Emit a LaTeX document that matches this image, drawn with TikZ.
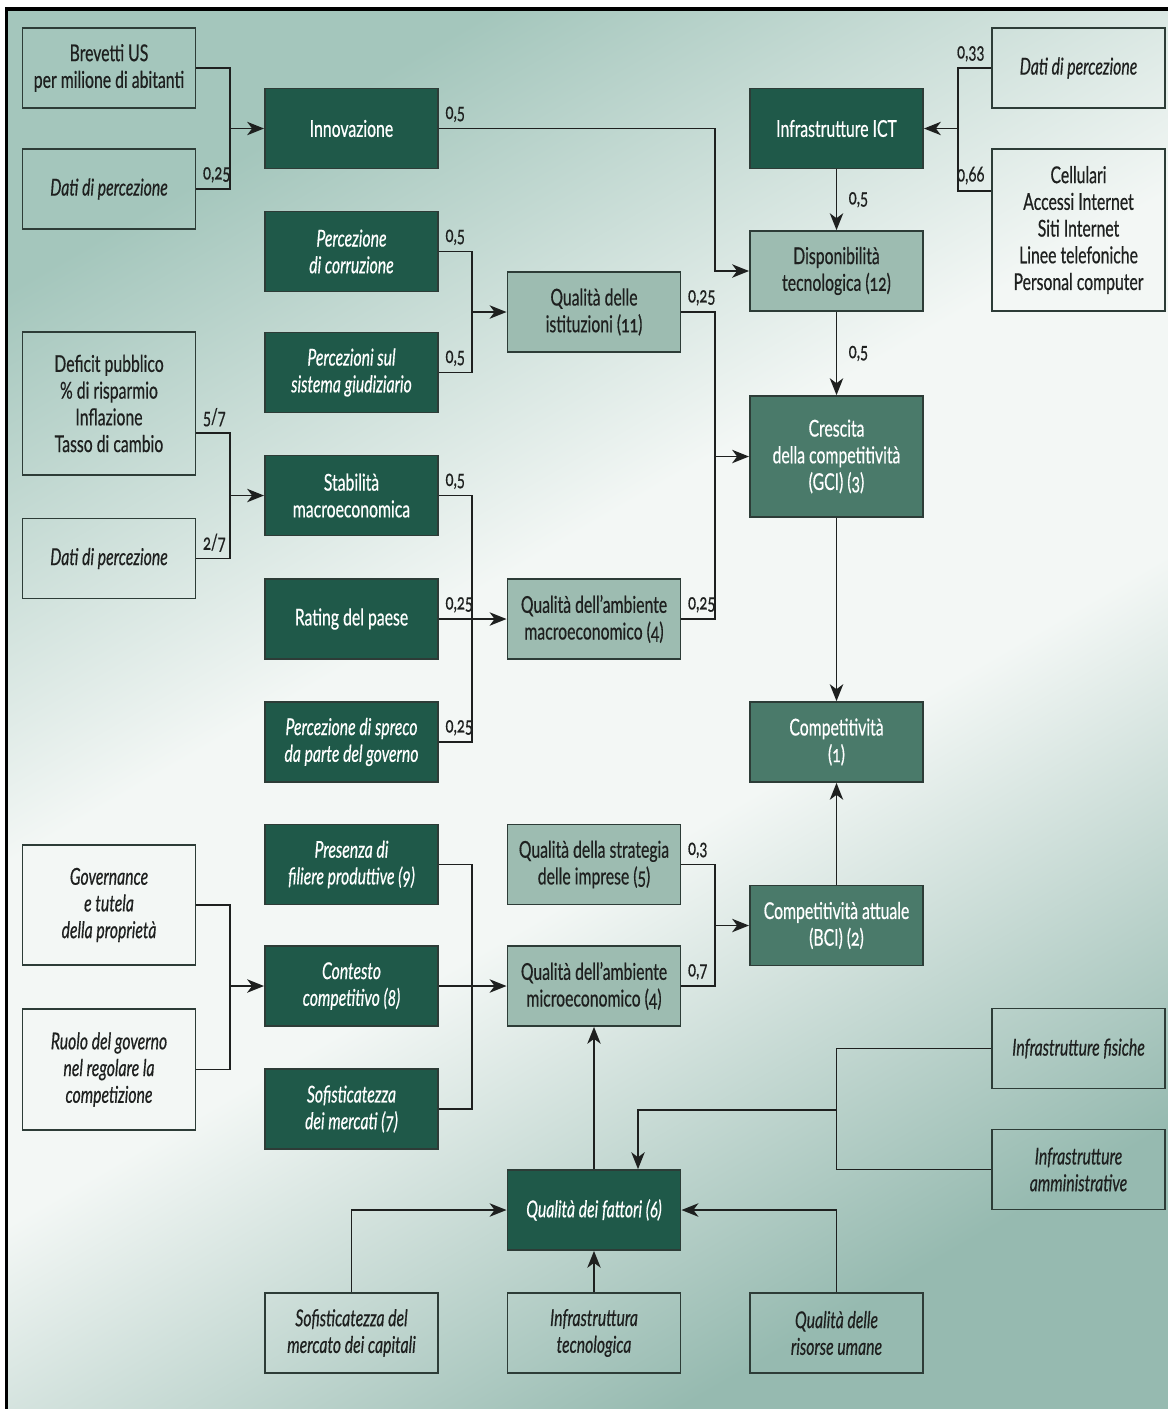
\documentclass[tikz,border=0pt]{standalone}
\usepackage{fontspec}
\setmainfont{Lato}[FakeStretch=0.68,FakeBold=0.5,Numbers=OldStyle]
\usetikzlibrary{arrows.meta,calc}
\definecolor{bgc}{RGB}{164,198,188}
\definecolor{bgend}{RGB}{150,186,176}
\definecolor{bgmid}{RGB}{243,247,245}
\definecolor{dkgreen}{RGB}{31,89,73}
\definecolor{mdgreen}{RGB}{74,122,106}
\definecolor{ltgreen}{RGB}{157,188,177}
\definecolor{frame}{RGB}{45,60,55}
\definecolor{ink}{RGB}{30,32,31}
\pgfdeclareverticalshading{bgshade}{100bp}{color(0bp)=(bgend); color(25bp)=(bgend); color(44bp)=(bgmid); color(56bp)=(bgmid); color(75bp)=(bgc); color(100bp)=(bgc)}
\begin{document}
\begin{tikzpicture}[x=0.025cm,y=-0.025cm]
\def\bw{4.33cm}
\def\bh{2cm}
\def\gap{0.86cm}
\tikzset{
base/.style={draw=frame,line width=1.2pt,minimum width=\bw,minimum height=\bh,align=center,inner sep=2pt,font=\fontsize{16.5}{19}\selectfont},
inp/.style={base,text=ink},
inpi/.style={inp,font=\fontsize{16.5}{19}\selectfont\itshape},
dark/.style={base,fill=dkgreen,text=white},
darki/.style={dark,font=\fontsize{16.5}{19}\selectfont\itshape},
mid/.style={base,fill=mdgreen,text=white},
light/.style={base,fill=ltgreen,text=ink},
wt/.style={font=\fontsize{15.5}{15.5}\selectfont,text=ink,inner sep=4pt,anchor=south west},
wire/.style={draw=ink,line width=1.35pt},
every path/.style={>={Stealth[length=12pt,width=9.5pt,inset=3.5pt]}}}
\useasboundingbox (0,0) rectangle (1168,1409);
\shade[shading=bgshade,shading angle=30] (6.5,9) rectangle (1168,1409);
\draw[line width=2.2pt] (6.5,1409) -- (6.5,9) -- (1168,9);
% first column
\node[inp] at (109,68) (BR) {Brevetti US\\per milione di abitanti};
\node[inpi] at (109,189) (DP1) {Dati di percezione};
\node[inp,minimum height=3.575cm] at (109,403.5) (DF) {Deficit pubblico\\\% di risparmio\\Inflazione\\Tasso di cambio};
\node[inpi] at (109,558.5) (DP3) {Dati di percezione};
\node[inpi,minimum height=3cm] at (109,905) (GT) {Governance\\e tutela\\della proprietà};
\node[inpi,minimum height=3.025cm] at (109,1069.5) (RG) {Ruolo del governo\\nel regolare la\\competizione};
% second column
\node[dark] at (351.5,128.5) (INN) {Innovazione};
\node[darki] at (351.5,251.5) (PC) {Percezione\\di corruzione};
\node[darki] at (351.5,372.5) (PG) {Percezioni sul\\sistema giudiziario};
\node[dark] at (351.5,495.5) (SM) {Stabilità\\macroeconomica};
\node[dark] at (351.5,619) (RP) {Rating del paese};
\node[darki] at (351.5,742) (PS) {Percezione di spreco\\da parte del governo};
\node[darki] at (351.5,864.5) (PF) {Presenza di\\filiere produttive (9)};
\node[darki] at (351.5,986) (CC) {Contesto\\competitivo (8)};
\node[darki] at (351.5,1109) (SF) {Sofisticatezza\\dei mercati (7)};
\node[inpi] at (351.5,1333) (SC) {Sofisticatezza del\\mercato dei capitali};
% third column
\node[light] at (594,312) (QI) {Qualità delle\\istituzioni (11)};
\node[light] at (594,619) (QM) {Qualità dell'ambiente\\macroeconomico (4)};
\node[light] at (594,864.5) (QS) {Qualità della strategia\\delle imprese (5)};
\node[light] at (594,986) (QE) {Qualità dell'ambiente\\microeconomico (4)};
\node[darki] at (594,1210) (QF) {Qualità dei fattori (6)};
\node[inpi] at (594,1333) (IT) {Infrastruttura\\tecnologica};
% fourth column
\node[dark] at (836.5,128.5) (ICT) {Infrastrutture ICT};
\node[light] at (836.5,271) (DT) {Disponibilità\\tecnologica (12)};
\node[mid,minimum height=3.025cm] at (836.5,456.5) (CR) {Crescita\\della competitività\\(GCI) (3)};
\node[mid] at (836.5,742) (CO) {Competitività\\(1)};
\node[mid] at (836.5,925.5) (CA) {Competitività attuale\\(BCI) (2)};
\node[inpi] at (836.5,1333) (QR) {Qualità delle\\risorse umane};
% last column
\node[inpi] at (1078.5,68) (DP2) {Dati di percezione};
\node[inp,minimum height=4.05cm] at (1078.5,230) (CEL) {Cellulari\\Accessi Internet\\Siti Internet\\Linee telefoniche\\Personal computer};
\node[inpi] at (1078.5,1048.5) (IF) {Infrastrutture fisiche};
\node[inpi] at (1078.5,1169.5) (IA) {Infrastrutture\\amministrative};
% innovazione
\coordinate (J1) at ([xshift=-\gap]INN.west);
\path[wire] (BR.east) -| (J1) |- (DP1.east) node[wt]{0,25};
\path[wire,->] (J1) -- (INN.west);
% disponibilita tecnologica
\coordinate (J3) at ([xshift=-\gap]DT.west);
\path[wire,->] (INN.east) node[wt]{0,5} -| (J3) -- (DT.west);
\coordinate (J5) at ([xshift=\gap]ICT.east);
\coordinate (C66) at (CEL.west |- 0,191);
\path[wire] (DP2.west) node[wt,anchor=south east]{0,33} -| (J5) |- (C66) node[wt,anchor=south east]{0,66};
\path[wire,->] (J5) -- (ICT.east);
\path[wire,->] (ICT.south) -- node[wt,anchor=west,xshift=4pt]{0,5} (DT.north);
% istituzioni
\coordinate (J2) at ([xshift=-\gap]QI.west);
\path[wire] (PC.east) node[wt]{0,5} -| (J2) |- (PG.east) node[wt]{0,5};
\path[wire,->] (J2) -- (QI.west);
% stabilita
\coordinate (J6) at ([xshift=-\gap]SM.west);
\coordinate (C57) at (DF.east |- 0,433);
\path[wire] (C57) node[wt]{5/7} -| (J6) |- (DP3.east) node[wt]{2/7};
\path[wire,->] (J6) -- (SM.west);
% ambiente macro
\coordinate (J7) at ([xshift=-\gap]QM.west);
\path[wire] (SM.east) node[wt]{0,5} -| (J7) |- (PS.east) node[wt]{0,25};
\path[wire,->] (RP.east) node[wt]{0,25} -- (QM.west);
% crescita
\coordinate (J4) at ([xshift=-\gap]CR.west);
\path[wire] (QI.east) node[wt]{0,25} -| (J4) |- (QM.east) node[wt]{0,25};
\path[wire,->] (J4) -- (CR.west);
\path[wire,->] (DT.south) -- node[wt,anchor=west,xshift=4pt]{0,5} (CR.north);
\path[wire,->] (CR.south) -- (CO.north);
% ambiente micro
\coordinate (J9) at ([xshift=-\gap]CC.west);
\path[wire] (GT.east) -| (J9) |- (RG.east);
\path[wire,->] (J9) -- (CC.west);
\coordinate (J10) at ([xshift=-\gap]QE.west);
\path[wire] (PF.east) -| (J10) |- (SF.east);
\path[wire,->] (CC.east) -- (QE.west);
% competitivita attuale
\coordinate (J8) at ([xshift=-\gap]CA.west);
\path[wire] (QS.east) node[wt]{0,3} -| (J8) |- (QE.east) node[wt]{0,7};
\path[wire,->] (J8) -- (CA.west);
\path[wire,->] (CA.north) -- (CO.south);
% fattori
\path[wire,->] (QF.north) -- (QE.south);
\path[wire,->] (SC.north) |- (QF.west);
\path[wire,->] (IT.north) -- (QF.south);
\path[wire,->] (QR.north) |- (QF.east);
\coordinate (J11) at (QR.north |- 0,1110);
\coordinate (C6) at (QF.north -| 638,0);
\path[wire] (IF.west) -| (J11) |- (IA.west);
\path[wire,->] (J11) -| (C6);
\end{tikzpicture}
\end{document}
